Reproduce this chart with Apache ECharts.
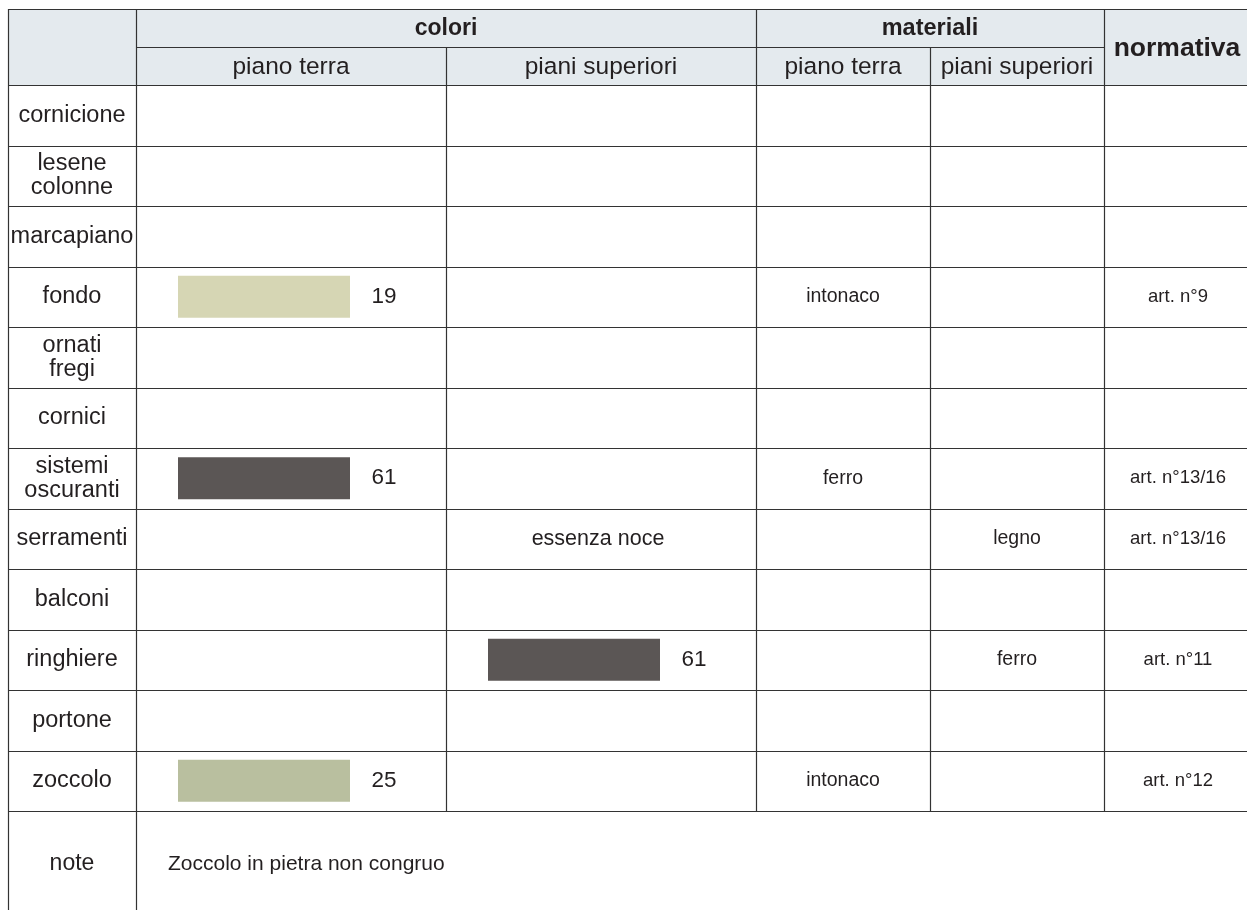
<!DOCTYPE html>
<html>
<head>
<meta charset="utf-8">
<script src="https://cdn.jsdelivr.net/npm/echarts@6/dist/echarts.min.js"></script>
<style>
  html, body { margin: 0; padding: 0; background: #fff; }
  #main { width: 1247px; height: 910px; }
</style>
</head>
<body>
<div id="main"></div>
<script>
// righe della tabella
var rowLabels = ['cornicione', 'lesene\ncolonne', 'marcapiano', 'fondo', 'ornati\nfregi', 'cornici',
    'sistemi\noscuranti', 'serramenti', 'balconi', 'ringhiere', 'portone', 'zoccolo'];
var groupHeaders = ['colori', 'materiali', 'normativa'];
var subHeaders = ['piano terra', 'piani superiori', 'piano terra', 'piani superiori'];

// campioni colore: riga, colonna (0 = piano terra, 1 = piani superiori), codice
var swatchRows = [3, 6, 9, 11];
var swatchCols = [0, 0, 1, 0];
var swatchCodes = [19, 61, 61, 25];
var swatchColors = ['#d6d6b4', '#5b5655', '#5b5655', '#b9bf9f'];

// testi nelle colonne (uno per riga)
var coloriSup = ['', '', '', '', '', '', '', 'essenza noce', '', '', '', ''];
var materialiTerra = ['', '', '', 'intonaco', '', '', 'ferro', '', '', '', '', 'intonaco'];
var materialiSup = ['', '', '', '', '', '', '', 'legno', '', 'ferro', '', ''];
var normativa = ['', '', '', 'art. n°9', '', '', 'art. n°13/16', 'art. n°13/16', '', 'art. n°11', '', 'art. n°12'];
var noteText = 'Zoccolo in pietra non congruo';

// layout (unità = pixel della tavola)
var colEdges = [8, 136, 446, 756, 930, 1104, 1252];
var topY = 9, midY = 47, headY = 85, rowH = 60.5, endY = 910;
var lineColor = '#333333';
var textColor = '#231f20';
var font = '"Liberation Sans", Arial, Helvetica, sans-serif';

var myChart = echarts.init(document.getElementById('main'));

function rowTop(i) { return headY + i * rowH; }
function colMid(c) { return (colEdges[c] + colEdges[c + 1]) / 2; }

function renderTable(params, api) {
    var children = [];
    var P = function (x, y) { return api.coord([x, y]); };
    var hline = function (x1, x2, y) {
        var a = P(x1, y), b = P(x2, y);
        children.push({ type: 'line', shape: { x1: a[0], y1: Math.round(a[1]) + 0.5, x2: b[0], y2: Math.round(b[1]) + 0.5 },
            style: { stroke: lineColor, lineWidth: 1.2 } });
    };
    var vline = function (x, y1, y2) {
        var a = P(x, y1), b = P(x, y2);
        children.push({ type: 'line', shape: { x1: Math.round(a[0]) + 0.5, y1: a[1], x2: Math.round(b[0]) + 0.5, y2: b[1] },
            style: { stroke: lineColor, lineWidth: 1.2 } });
    };
    var text = function (str, x, y, size, opt) {
        var p = P(x, y);
        opt = opt || {};
        children.push({ type: 'text', style: {
            x: p[0], y: p[1], text: str, fill: textColor,
            fontSize: size, fontFamily: font, fontWeight: opt.bold ? 'bold' : 'normal',
            align: opt.align || 'center', verticalAlign: 'middle', lineHeight: opt.lh || size
        } });
    };

    // sfondo intestazione
    var h0 = P(colEdges[0], topY), h1 = P(colEdges[6], headY);
    children.push({ type: 'rect', shape: { x: h0[0], y: h0[1], width: h1[0] - h0[0], height: h1[1] - h0[1] },
        style: { fill: '#e4eaee' } });

    // campioni colore
    swatchRows.forEach(function (r, k) {
        var c = 1 + swatchCols[k];
        var cy = rowTop(r) + rowH / 2;
        var a = P(colEdges[c] + 42, cy - 21), b = P(colEdges[c] + 214, cy + 21);
        children.push({ type: 'rect', shape: { x: a[0], y: a[1], width: b[0] - a[0], height: b[1] - a[1] },
            style: { fill: swatchColors[k] } });
        text(String(swatchCodes[k]), colEdges[c] + 248, cy, 22.5);
    });

    // linee orizzontali
    hline(colEdges[0], colEdges[6], topY);
    hline(colEdges[1], colEdges[5], midY);
    for (var i = 0; i <= rowLabels.length; i++) hline(colEdges[0], colEdges[6], rowTop(i));

    // linee verticali
    var tableEnd = rowTop(rowLabels.length);
    vline(colEdges[0], topY, endY);
    vline(colEdges[1], topY, endY);
    vline(colEdges[2], midY, tableEnd);
    vline(colEdges[3], topY, tableEnd);
    vline(colEdges[4], midY, tableEnd);
    vline(colEdges[5], topY, tableEnd);

    // intestazioni
    text(groupHeaders[0], (colEdges[1] + colEdges[3]) / 2, (topY + midY) / 2 + 1, 23, { bold: true });
    text(groupHeaders[1], (colEdges[3] + colEdges[5]) / 2, (topY + midY) / 2 + 1, 23.5, { bold: true });
    text(groupHeaders[2], colMid(5) - 1, (topY + headY) / 2 + 2, 26.5, { bold: true });
    subHeaders.forEach(function (s, k) { text(s, colMid(k + 1), (midY + headY) / 2 + 1, 24.5); });

    // righe
    rowLabels.forEach(function (lab, r) {
        var cy = rowTop(r) + rowH / 2;
        text(lab, colMid(0), cy, 23.5, { lh: 24 });
        if (coloriSup[r]) text(coloriSup[r], colMid(2) - 3, cy, 21.5);
        if (materialiTerra[r]) text(materialiTerra[r], colMid(3), cy, 19.5);
        if (materialiSup[r]) text(materialiSup[r], colMid(4), cy, 19.5);
        if (normativa[r]) text(normativa[r], colMid(5), cy, 18.5);
    });

    // note
    text('note', colMid(0), tableEnd + 53, 23);
    text(noteText, colEdges[1] + 32, tableEnd + 53, 21);
    children[children.length - 1].style.align = 'left';

    return { type: 'group', children: children };
}

var option = {
    animation: false,
    grid: { left: 0, right: 0, top: 0, bottom: 0 },
    xAxis: { type: 'value', min: 0, max: 1247, show: false },
    yAxis: { type: 'value', min: 0, max: 910, inverse: true, show: false },
    series: [{
        type: 'custom',
        renderItem: renderTable,
        data: [[0, 0]],
        silent: true
    }]
};

option && myChart.setOption(option);
</script>
</body>
</html>
